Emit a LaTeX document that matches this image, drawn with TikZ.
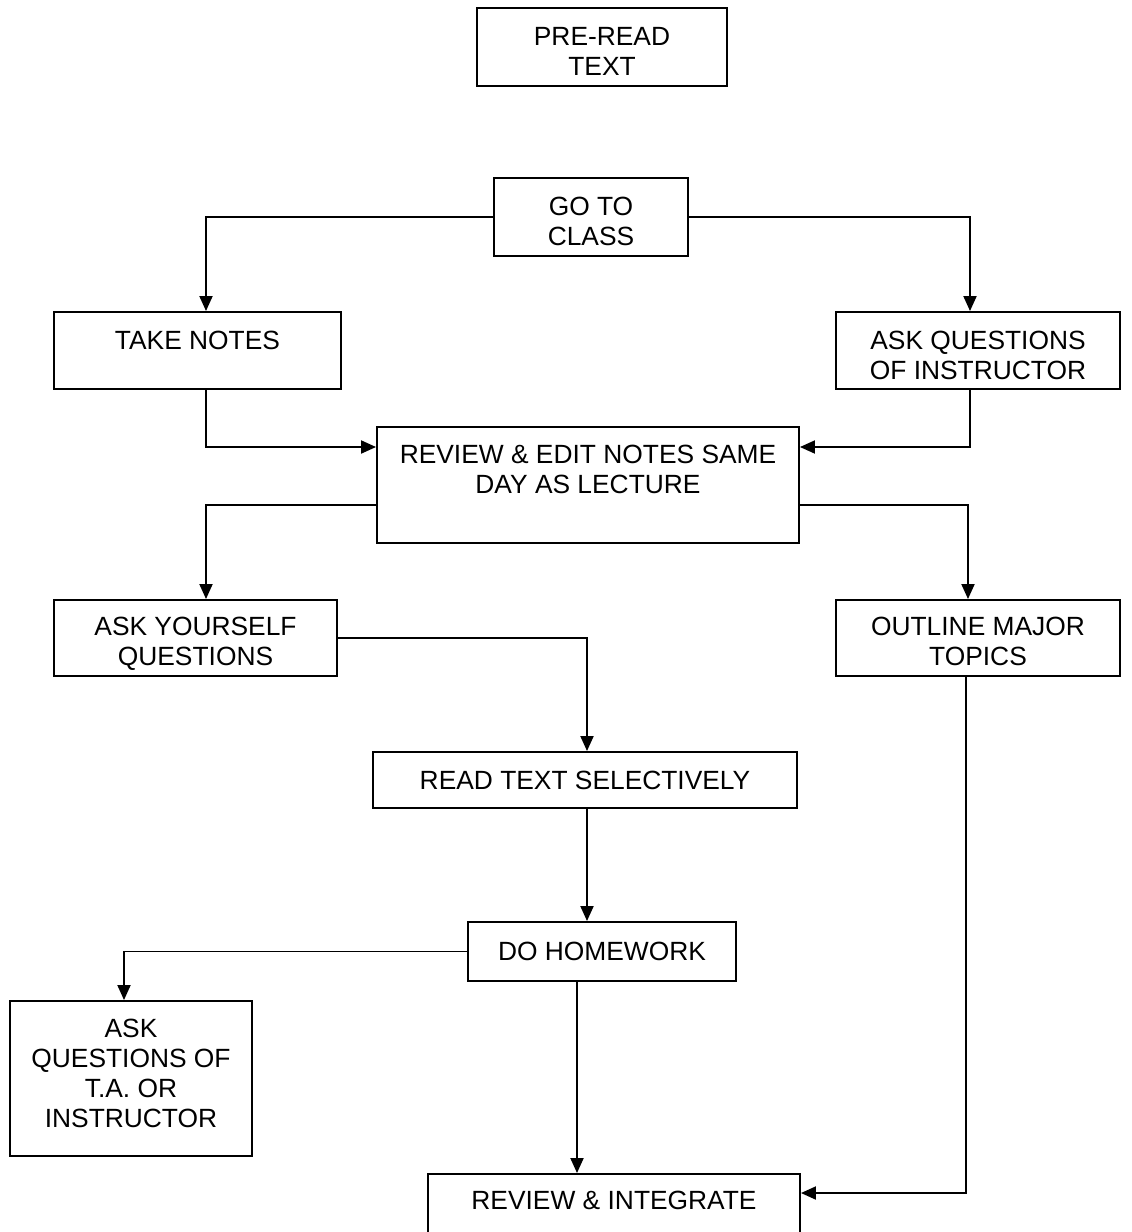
\documentclass[tikz,border=0pt]{standalone}
\usepackage{fontspec}
\setmainfont{Liberation Sans}
\usepackage{tikz}
\usetikzlibrary{calc,arrows.meta}

\begin{document}
\begin{tikzpicture}[
		box/.style={draw, line width=1.1pt, inner sep=0pt, align=center,
			font=\fontsize{15}{17}\selectfont},
		arr/.style={line width=1.1pt, -{Triangle[length=0.3cm, width=0.26cm]}}
	]
		%%%%% START %%%%%
		
		\useasboundingbox (0, 0) rectangle (22.64, -24.64);
		
		\node[box, minimum width=5.0cm, minimum height=1.56cm] (preread) at (12.04, -0.94) {\rule{0pt}{15.2pt}PRE-READ\\TEXT};
		\node[box, minimum width=3.88cm, minimum height=1.56cm] (class) at (11.82, -4.34) {\rule{0pt}{15.2pt}GO TO\\CLASS};
		
		\node[box, minimum width=5.74cm, minimum height=1.54cm, text depth=12pt] (notes) at (3.95, -7.01) {TAKE NOTES};
		\node[box, minimum width=5.68cm, minimum height=1.54cm] (askinst) at (19.56, -7.01) {\rule{0pt}{16.4pt}ASK QUESTIONS\\OF INSTRUCTOR};
		
		\node[box, minimum width=8.44cm, minimum height=2.32cm, text depth=18pt] (review) at (11.76, -9.70) {REVIEW \& EDIT NOTES SAME\\DAY AS LECTURE};
		
		\node[box, minimum width=5.66cm, minimum height=1.52cm] (askself) at (3.91, -12.76) {\rule{0pt}{17.5pt}ASK YOURSELF\\QUESTIONS};
		\node[box, minimum width=5.68cm, minimum height=1.52cm] (outline) at (19.56, -12.76) {\rule{0pt}{14.1pt}OUTLINE MAJOR\\TOPICS};
		
		\node[box, minimum width=8.48cm, minimum height=1.12cm] (read) at (11.70, -15.60) {READ TEXT SELECTIVELY};
		\node[box, minimum width=5.36cm, minimum height=1.18cm] (homework) at (12.04, -19.03) {DO HOMEWORK};
		
		\node[box, minimum width=4.84cm, minimum height=3.10cm, text depth=5.7pt] (askta) at (2.62, -21.57) {ASK\\QUESTIONS OF\\T.A. OR\\INSTRUCTOR};
		\node[box, minimum width=7.44cm, minimum height=1.28cm, text depth=6pt] (integrate) at (12.28, -24.12) {REVIEW \& INTEGRATE};
		
		% connectors
		\draw[arr] (class.west) -| ([xshift=0.17cm]notes.north);
		\draw[arr] (class.east) -| ([xshift=-0.16cm]askinst.north);
		\draw[arr] ([xshift=0.17cm]notes.south) |- ([yshift=0.76cm]review.west);
		\draw[arr] ([xshift=-0.16cm]askinst.south) |- ([yshift=0.76cm]review.east);
		\draw[arr] ([yshift=-0.40cm]review.west) -| ([xshift=0.21cm]askself.north);
		\draw[arr] ([yshift=-0.40cm]review.east) -| ([xshift=-0.20cm]outline.north);
		\draw[arr] (askself.east) -| ([xshift=0.04cm]read.north);
		\draw[arr] ([xshift=0.04cm]read.south) -- ([xshift=0.04cm]read.south |- homework.north);
		\draw[arr] (homework.west) -| ([xshift=-0.14cm]askta.north);
		\draw[arr] ([xshift=-0.50cm]homework.south) -- ([xshift=-0.50cm]homework.south |- integrate.north);
		\draw[arr] ([xshift=-0.24cm]outline.south) |- ([yshift=0.26cm]integrate.east);
		
		%%%%% END %%%%%
	\end{tikzpicture}
\end{document}
